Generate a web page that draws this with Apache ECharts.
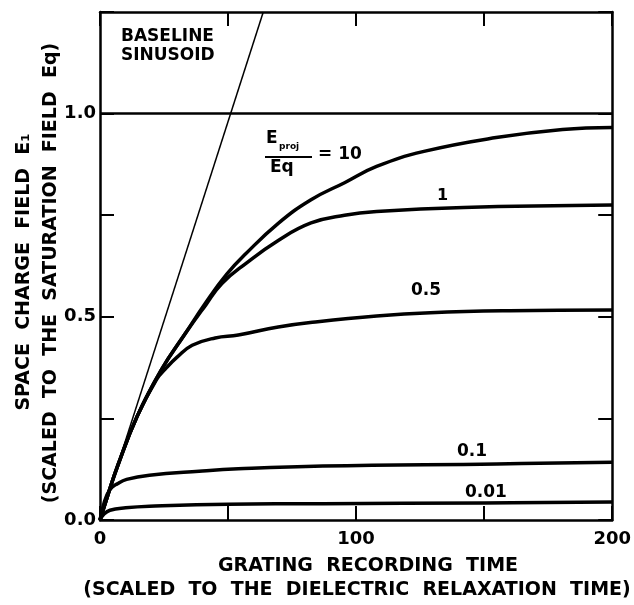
<!DOCTYPE html>
<html>
<head>
<meta charset="utf-8">
<script src="https://cdn.jsdelivr.net/npm/echarts@6/dist/echarts.min.js"></script>
<style>
  html, body { margin: 0; padding: 0; background: #fff; }
  #chart { width: 634px; height: 605px; }
</style>
</head>
<body>
<div id="chart"></div>
<script>
// grating recording time (scaled) and space charge field (scaled to Eq)
const time10 = [0, 3, 7, 14.5, 24, 32.9, 41.4, 49.5, 56.9, 69.6, 82.4, 95.5, 108, 126.5, 154.7, 180.6, 200];
const field10 = [0, 0.06, 0.135, 0.255, 0.37, 0.455, 0.536, 0.605, 0.655, 0.73, 0.788, 0.83, 0.87, 0.907, 0.941, 0.961, 0.966];

const time1 = [0, 3, 7, 14.5, 24, 32.9, 41.4, 47.6, 56.9, 69.6, 82.4, 95.5, 108, 142, 200];
const field1 = [0, 0.06, 0.135, 0.255, 0.37, 0.455, 0.53, 0.582, 0.631, 0.688, 0.731, 0.75, 0.759, 0.769, 0.775];

const time05 = [0, 3, 7, 14.5, 22, 26, 30, 36, 45, 54, 69.6, 85, 108, 129, 160, 200];
const field05 = [0, 0.06, 0.135, 0.255, 0.345, 0.375, 0.40, 0.43, 0.448, 0.455, 0.475, 0.488, 0.502, 0.51, 0.515, 0.517];

const time01 = [0, 1.5, 3.9, 7, 10.4, 19.3, 38.7, 54, 87, 155, 200];
const field01 = [0, 0.04, 0.075, 0.09, 0.1, 0.11, 0.12, 0.126, 0.133, 0.138, 0.142];

const time001 = [0, 1.5, 3.9, 10, 19.3, 50, 87, 150, 200];
const field001 = [0, 0.014, 0.024, 0.03, 0.034, 0.039, 0.04, 0.042, 0.044];

const baselineTime = [0, 63.75];
const baselineField = [0, 1.25];

const saturationTime = [0, 200];
const saturationField = [1, 1];

const xLabels = [0, 100, 200];
const yLabels = [0, 0.5, 1];

const font = "DejaVu Sans";

function pairs(xs, ys) {
  return xs.map((x, i) => [x, ys[i]]);
}

function curve(xs, ys, width) {
  return {
    type: "line",
    data: pairs(xs, ys),
    smooth: 0.45,
    showSymbol: false,
    lineStyle: { color: "#000", width: width },
    silent: true,
  };
}

function axisLine() {
  return { show: true, onZero: false, lineStyle: { color: "#000", width: 2.5 } };
}
function tick() {
  return { show: true, inside: true, length: 14, lineStyle: { color: "#000", width: 2 } };
}

const chart = echarts.init(document.getElementById("chart"), null, { renderer: "canvas" });

chart.setOption({
  animation: false,
  backgroundColor: "#fff",
  grid: { left: 100, right: 17, top: 12, bottom: 85 },
  xAxis: [
    {
      type: "value", min: 0, max: 200, interval: 50,
      axisLine: axisLine(), axisTick: tick(), splitLine: { show: false },
      axisLabel: {
        margin: 10, color: "#000", fontFamily: font, fontWeight: "bold", fontSize: 18,
        formatter: (v) => (xLabels.includes(v) ? String(v) : ""),
      },
    },
    {
      type: "value", position: "top", min: 0, max: 200, interval: 50,
      axisLine: axisLine(), axisTick: tick(), axisLabel: { show: false }, splitLine: { show: false },
    },
  ],
  yAxis: [
    {
      type: "value", min: 0, max: 1.25, interval: 0.25,
      axisLine: axisLine(), axisTick: tick(), splitLine: { show: false },
      axisLabel: {
        margin: 4, color: "#000", fontFamily: font, fontWeight: "bold", fontSize: 18,
        formatter: (v) => (yLabels.some((y) => Math.abs(y - v) < 1e-9) ? v.toFixed(1) : ""),
      },
    },
    {
      type: "value", position: "right", min: 0, max: 1.25, interval: 0.25,
      axisLine: axisLine(), axisTick: tick(), axisLabel: { show: false }, splitLine: { show: false },
    },
  ],
  series: [
    curve(baselineTime, baselineField, 1.5),
    curve(saturationTime, saturationField, 2.5),
    curve(time10, field10, 3.5),
    curve(time1, field1, 3.5),
    curve(time05, field05, 3.5),
    curve(time01, field01, 3.5),
    curve(time001, field001, 3.5),
  ],
  graphic: [
    { type: "text", left: 121, top: 27, style: { text: "BASELINE\nSINUSOID", font: `bold 17px "${font}"`, fill: "#000", lineHeight: 19 } },
    { type: "text", left: 266, top: 130, style: { text: "E", font: `bold 17px "${font}"`, fill: "#000" } },
    { type: "text", left: 279, top: 142, style: { text: "proj", font: `bold 9px "${font}"`, fill: "#000" } },
    { type: "line", shape: { x1: 265, y1: 157, x2: 312, y2: 157 }, style: { stroke: "#000", lineWidth: 2 } },
    { type: "text", left: 270, top: 159, style: { text: "Eq", font: `bold 17px "${font}"`, fill: "#000" } },
    { type: "text", left: 318, top: 146, style: { text: "= 10", font: `bold 17px "${font}"`, fill: "#000" } },
    { type: "text", left: 437, top: 188, style: { text: "1", font: `bold 16px "${font}"`, fill: "#000" } },
    { type: "text", left: 411, top: 282, style: { text: "0.5", font: `bold 17px "${font}"`, fill: "#000" } },
    { type: "text", left: 457, top: 443, style: { text: "0.1", font: `bold 17px "${font}"`, fill: "#000" } },
    { type: "text", left: 465, top: 484, style: { text: "0.01", font: `bold 17px "${font}"`, fill: "#000" } },
    {
      type: "text", x: 368, y: 566,
      style: { text: "GRATING  RECORDING  TIME", font: `bold 19px "${font}"`, fill: "#000", align: "center", verticalAlign: "middle" },
    },
    {
      type: "text", x: 357, y: 590,
      style: { text: "(SCALED  TO  THE  DIELECTRIC  RELAXATION  TIME)", font: `bold 19px "${font}"`, fill: "#000", align: "center", verticalAlign: "middle" },
    },
    {
      type: "text", x: 24, y: 272, rotation: Math.PI / 2,
      style: { text: "SPACE  CHARGE  FIELD  E\u2081", font: `bold 19px "${font}"`, fill: "#000", align: "center", verticalAlign: "middle" },
    },
    {
      type: "text", x: 51, y: 273, rotation: Math.PI / 2,
      style: { text: "(SCALED  TO  THE  SATURATION  FIELD  Eq)", font: `bold 19px "${font}"`, fill: "#000", align: "center", verticalAlign: "middle" },
    },
  ],
});
</script>
</body>
</html>
